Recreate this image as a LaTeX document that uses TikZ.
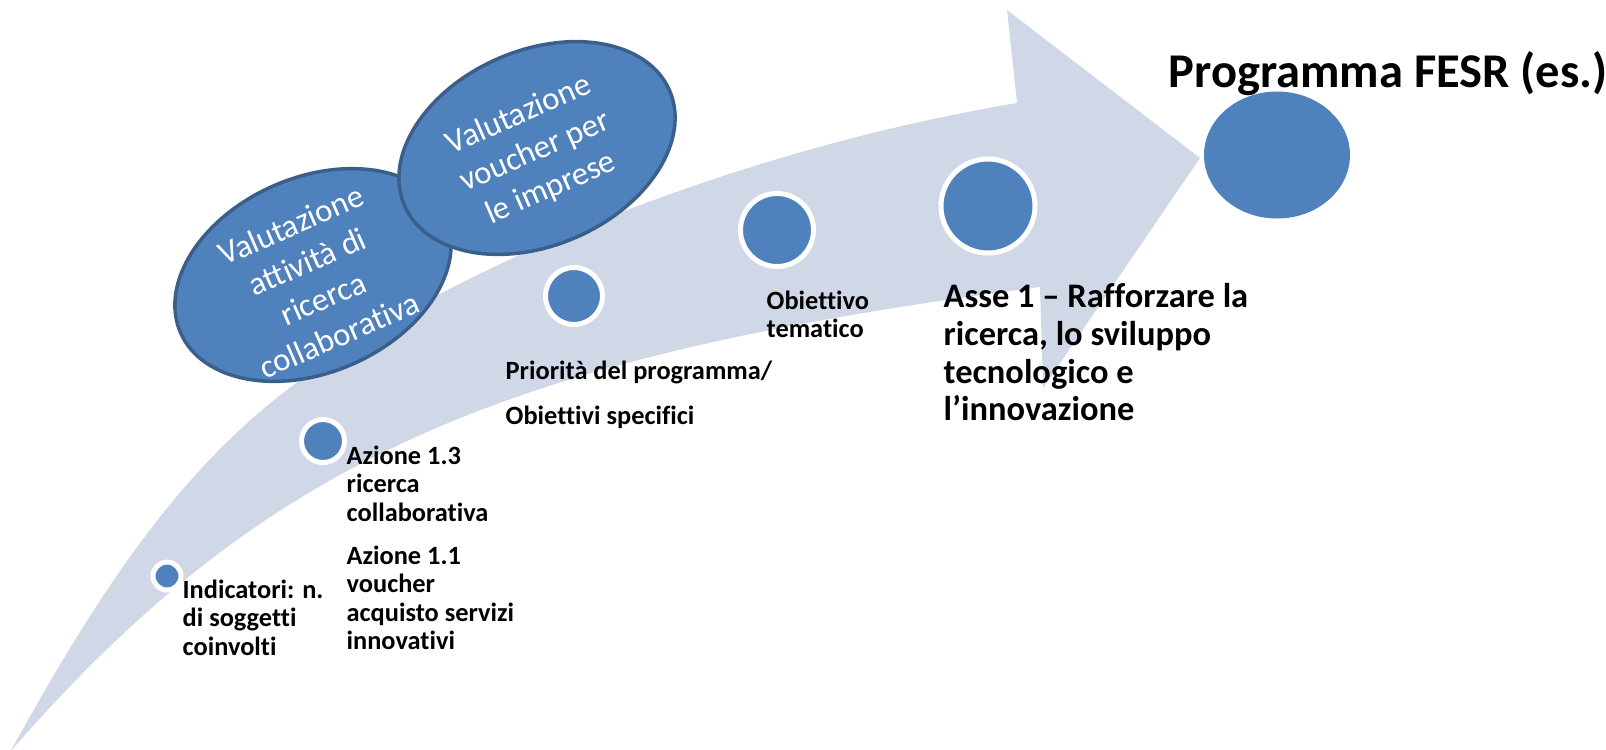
\documentclass[tikz,border=0pt]{standalone}
\usepackage{fontspec}
\setmainfont[Ligatures=CommonOff]{Carlito}
\usetikzlibrary{shapes.geometric}
\definecolor{bandgray}{HTML}{D0D8E8}
\definecolor{beadblue}{HTML}{4F81BD}
\definecolor{rimblue}{HTML}{3A5F8B}

\begin{document}
\begin{tikzpicture}[x=0.1mm,y=-0.1mm,
  bead/.style={circle,fill=beadblue,draw=white,line width=0.5mm,inner sep=0pt},
  evalbox/.style={ellipse,fill=beadblue,draw=rimblue,line width=0.35mm,inner sep=0pt,rotate=23.5,
    minimum width=28.9mm,minimum height=19.5mm},
  evaltext/.style={inner sep=0pt,rotate=23.5,text=white,align=center,font=\fontsize{9.3}{11.4}\selectfont},
  lbl/.style={anchor=north west,inner sep=0pt,align=left,font=\bfseries\fontsize{7.5}{8.1}\selectfont}]
\useasboundingbox (0,0) rectangle (1606,749);
\fill[bandgray] (10,752) .. controls (83,621) and (164,485) .. (283,393)
  .. controls (457,258) and (758,146) .. (1017,103)
  -- (1007,10) -- (1200,158) -- (1043,388) -- (1040,287)
  .. controls (510,356) and (269,454) .. (10,752) -- cycle;
\node[bead,minimum size=2.8mm] (ind) at (167,576) {};
\node[bead,minimum size=4.3mm] (az) at (323,441) {};
\node[bead,minimum size=5.7mm] (prio) at (574,296) {};
\node[bead,minimum size=7.3mm] (obt) at (777,230) {};
\node[bead,minimum size=9.4mm] (asse) at (988,206) {};
\node[ellipse,fill=beadblue,inner sep=0pt,minimum width=14.6mm,minimum height=12.7mm] (prog) at (1277,155) {};
\node[evalbox] (evalric) at (313,275) {};
\node[evaltext] at (315,280) {Valutazione\\attività di\\ricerca\\collaborativa};
\node[evalbox] (evalvou) at (537,148) {};
\node[evaltext] at (535,152) {Valutazione\\voucher per\\le imprese};
\node[lbl] (indtxt) at (182,579) {Indicatori: n.\\di soggetti\\coinvolti};
\node[lbl] (az13txt) at (346,445) {Azione 1.3\\ricerca\\collaborativa};
\node[lbl] (az11txt) at (346,545) {Azione 1.1\\voucher\\acquisto servizi\\innovativi};
\node[lbl,font=\bfseries\fontsize{7.5}{12.9}\selectfont] (priotxt) at (505,360) {Priorità del programma/\\Obiettivi specifici};
\node[lbl,font=\bfseries\fontsize{7.5}{8}\selectfont] (obttxt) at (766,290) {Obiettivo\\tematico};
\node[lbl,font=\bfseries\fontsize{9.8}{10.7}\selectfont] (assetxt) at (943,283) {Asse 1 – Rafforzare la\\ricerca, lo sviluppo\\tecnologico e\\l’innovazione};
\node[anchor=base west,inner sep=0pt,font=\bfseries\fontsize{13.8}{16}\selectfont] (progtxt) at (1168,87) {Programma FESR (es.)};
\end{tikzpicture}
\end{document}
